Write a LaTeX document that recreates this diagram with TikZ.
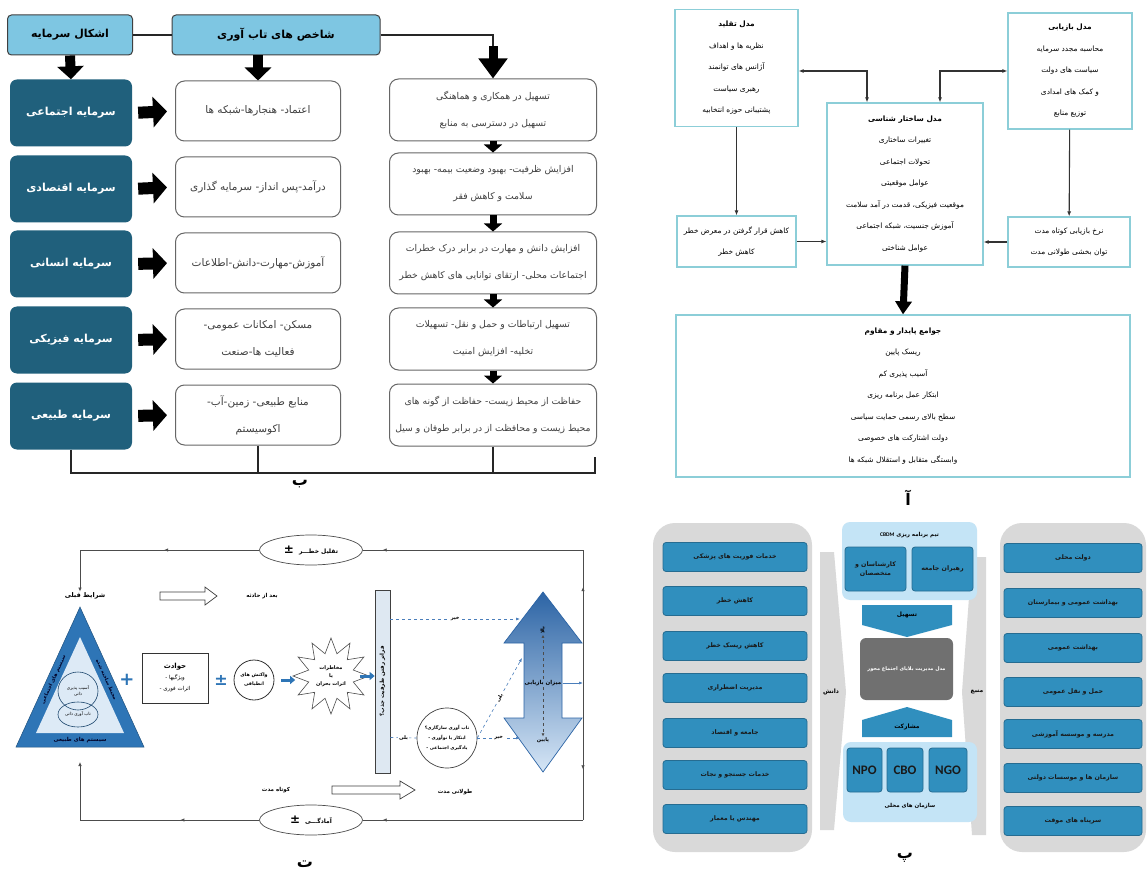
\documentclass[tikz,border=0pt]{standalone}
\usepackage{fontspec}
\newfontfamily\fa[Script=Arabic]{DejaVu Sans}
\newfontfamily\lat{Carlito}
\TeXXeTstate=1
\usepackage{xcolor}
\definecolor{hdrblue}{RGB}{126, 198, 226}
\definecolor{tealbox}{RGB}{32, 96, 124}
\definecolor{cyanline}{RGB}{140, 206, 216}
\definecolor{cellblue}{RGB}{48, 143, 190}
\definecolor{cellline}{RGB}{38, 108, 145}
\definecolor{panelgray}{RGB}{217, 217, 217}
\definecolor{panelblue}{RGB}{196, 228, 246}
\definecolor{coregray}{RGB}{112, 112, 112}
\definecolor{triblue}{RGB}{46, 117, 182}
\definecolor{trilight}{RGB}{221, 234, 246}
\definecolor{dashblue}{RGB}{74, 126, 187}
\definecolor{bardark}{RGB}{44, 100, 165}
\definecolor{barmid}{RGB}{150, 186, 222}
\definecolor{barlight}{RGB}{214, 230, 246}
\definecolor{barfill}{RGB}{222, 232, 242}
\usepackage{tikz}
\usetikzlibrary{
    shapes.geometric,
    arrows.meta,
    positioning,
    decorations.markings
}
\newcommand{\rl}[1]{\beginR#1\endR}
\newcommand{\rlb}[1]{\beginR{\bfseries#1}\endR}
\newcommand{\fsz}[2]{\fontsize{#1}{#2}\selectfont}

\begin{document}
\begin{tikzpicture}[
  x=1pt, y=-1pt,
  every node/.style={font=\fa, inner sep=1pt, align=center},
  % panel b
  hdr/.style={draw=black!75, line width=1pt, rounded corners=4pt, fill=hdrblue,
    minimum height=40, font=\fa\bfseries\fsz{11}{13}},
  capbox/.style={fill=tealbox, rounded corners=7pt, minimum width=122,
    minimum height=67, text=white, font=\fa\bfseries\fsz{11}{13}},
  idxbox/.style={draw=black!60, line width=1pt, rounded corners=9pt, fill=white,
    text=black!75, font=\fa\fsz{10.5}{27}},
  actbox/.style={idxbox, font=\fa\fsz{9.3}{27}},
  fatdown/.style={line width=10pt, -{Triangle[width=26pt, length=13pt]}},
  fatright/.style={line width=12pt, -{Triangle[width=30pt, length=14pt]}},
  smalldown/.style={line width=7pt, -{Triangle[width=18pt, length=8pt]}},
  busline/.style={line width=1.6pt, black!85},
  % panel a
  modbox/.style={draw=cyanline, line width=1.2pt, fill=white,
    font=\fa\fsz{7.4}{21.5}},
  modarrow/.style={line width=1.1pt, black!80, -{Latex[length=5pt, width=4pt]}},
  modboth/.style={modarrow, {Latex[length=5pt, width=4pt]}-{Latex[length=5pt, width=4pt]}},
  % panel p
  graypanel/.style={fill=panelgray, rounded corners=22pt},
  teampanel/.style={fill=panelblue, rounded corners=8pt},
  cell/.style={fill=cellblue, draw=cellline, line width=0.8pt, rounded corners=3pt,
    text=black!90, font=\fa\bfseries\fsz{6.3}{9}},
  % panel t
  loopline/.style={line width=0.7pt, black!70},
  midarr/.style={postaction={decorate}, decoration={markings,
    mark=at position #1 with {\arrow{Latex[length=4pt, width=3.5pt]}}}},
  endarr/.style={-{Latex[length=4pt, width=3.5pt]}},
  dashline/.style={draw=dashblue, dashed, line width=0.6pt},
  dasharr/.style={dashline, -{Latex[length=4pt, width=3pt]}},
  bluefat/.style={line width=3pt, draw=triblue, -{Triangle[width=8pt, length=5pt]}},
  tiny/.style={font=\fa\bfseries\fsz{5}{7}},
  lbl/.style={fill=white, inner sep=1.5pt, font=\fa\bfseries\fsz{5}{6}},
  panellbl/.style={font=\fa\bfseries\fsz{16}{18}}
]
\useasboundingbox[fill=white] (0,0) rectangle (1148,874);

% ---------------- panel b ----------------
\node[hdr, minimum width=125] (hcap) at (70,35) {\rl{اشکال سرمایه}};
\node[hdr, minimum width=208] (hidx) at (276,35) {\rl{شاخص های تاب آوری}};

\foreach \y/\txt [count=\i] in {113/سرمایه اجتماعی, 189/سرمایه اقتصادی,
    264/سرمایه انسانی, 340/سرمایه فیزیکی, 416/سرمایه طبیعی}
  \node[capbox] (c\i) at (71,\y) {\rl{\txt}};

\foreach \y/\txt [count=\i] in {
    111/{\rl{اعتماد- هنجارها-شبکه ها}},
    187/{\rl{درآمد-پس انداز- سرمایه گذاری}},
    263/{\rl{آموزش-مهارت-دانش-اطلاعات}},
    339/{\rl{مسکن- امکانات عمومی-}\\\rl{فعالیت ها-صنعت}},
    415/{\rl{منابع طبیعی- زمین-آب-}\\\rl{اکوسیستم}}}
  \node[idxbox, minimum width=165, minimum height=60] (m\i) at (258,\y) {\txt};

\foreach \y/\txt [count=\i] in {
    110/{\rl{تسهیل در همکاری و هماهنگی}\\\rl{تسهیل در دسترسی به منابع}},
    184/{\rl{افزایش ظرفیت- بهبود وضعیت بیمه- بهبود}\\\rl{سلامت و کاهش فقر}},
    263/{\rl{افزایش دانش و مهارت در برابر درک خطرات}\\\rl{اجتماعات محلی- ارتقای توانایی های کاهش خطر}},
    339/{\rl{تسهیل ارتباطات و حمل و نقل- تسهیلات}\\\rl{تخلیه- افزایش امنیت}},
    415/{\rl{حفاظت از محیط زیست- حفاظت از گونه های}\\\rl{محیط زیست و محافظت از در برابر طوفان و سیل}}}
  \node[actbox, minimum width=207, minimum height=62] (r\i) at (493,\y) {\txt};

\draw[busline, line width=2.4pt] (hcap.east) -- (hidx.west);
\draw[busline, line width=2.4pt] (hidx.east) -| ([yshift=20pt]r1.north);
\draw[fatdown] (hcap.south) -- (c1.north);
\draw[fatdown] (m1.north |- hidx.south) -- (m1.north);
\draw[line width=9pt, -{Triangle[width=28pt, length=20pt]}] ([yshift=32pt]r1.north) -- (r1.north);
\foreach \i in {1,...,5}
  \draw[fatright, shorten <=6pt, shorten >=8pt] (c\i.east) -- (m\i.west);
\foreach \i [evaluate=\i as \j using int(\i+1)] in {1,...,4}
  \draw[smalldown] (r\i.south) -- (r\j.north);

\coordinate (bend) at (595,473);
\draw[busline] (c5.south) |- (bend) -- ++(0,-16);
\draw[busline] (m5.south) -- (m5.south |- bend);
\draw[busline] (r5.south) -- (r5.south |- bend);
\node[panellbl] (lb) at (300,484) {\rl{ب}};

% ---------------- panel a ----------------
\node[modbox, minimum width=123, minimum height=117] (taq) at (736.5,68)
  {\rlb{مدل تقلید}\\\rl{نظریه ها و اهداف}\\\rl{آژانس های توانمند}\\\rl{رهبری سیاست}\\\rl{پشتیبانی حوزه انتخابیه}};
\node[modbox, minimum width=124, minimum height=116] (baz) at (1070,71)
  {\rlb{مدل بازیابی}\\\rl{محاسبه مجدد سرمایه}\\\rl{سیاست های دولت}\\\rl{و کمک های امدادی}\\\rl{توزیع منابع}};
\node[modbox, minimum width=156, minimum height=162] (sak) at (905,184)
  {\rlb{مدل ساختار شناسی}\\\rl{تغییرات ساختاری}\\\rl{تحولات اجتماعی}\\\rl{عوامل موقعیتی}\\
   \rl{موقعیت فیزیکی، قدمت در آمد سلامت}\\\rl{آموزش جنسیت، شبکه اجتماعی}\\\rl{عوامل شناختی}};
\node[modbox, minimum width=119, minimum height=51] (kah) at (736.5,241.5)
  {\rl{کاهش قرار گرفتن در معرض خطر}\\\rl{کاهش خطر}};
\node[modbox, minimum width=122, minimum height=50] (nrk) at (1069,242)
  {\rl{نرخ بازیابی کوتاه مدت}\\\rl{توان بخشی طولانی مدت}};
\node[modbox, minimum width=454, minimum height=162] (jvm) at (903,396)
  {\rlb{جوامع پایدار و مقاوم}\\\rl{ریسک پایین}\\\rl{آسیب پذیری کم}\\\rl{ابتکار عمل برنامه ریزی}\\
   \rl{سطح بالای رسمی حمایت سیاسی}\\\rl{دولت اشتارکت های خصوصی}\\\rl{وابستگی متقابل و استقلال شبکه ها}};

\draw[modboth] ([yshift=-3pt]taq.east) -| ([xshift=-38pt]sak.north);
\draw[modboth] (baz.west) -| ([xshift=35pt]sak.north);
\draw[modarrow] (taq) -- (kah);
\draw[modarrow] (baz) -- (nrk);
\draw[modarrow] (kah.east) -- (kah.east -| sak.west);
\draw[modarrow] (nrk.west) -- (nrk.west -| sak.east);
\draw[line width=7pt, -{Triangle[width=16pt, length=13pt]}] (sak.south) -- (jvm.north);
\node[panellbl] (la) at (908,498) {\rl{آ}};

% ---------------- panel p ----------------
\node[graypanel, minimum width=159, minimum height=329] (gk) at (732.5,687.5) {};
\node[graypanel, minimum width=146, minimum height=329] (gm) at (1073,687.5) {};
\foreach \y/\txt [count=\i] in {557/خدمات فوریت های پزشکی, 601/کاهش خطر,
    646/کاهش ریسک خطر, 688/مدیریت اضطراری, 733/جامعه و اقتصاد,
    775/خدمات جستجو و نجات, 819/مهندس یا معمار}
  \node[cell, minimum width=144, minimum height=29] (k\i) at (735,\y) {\rl{\txt}};
\foreach \y/\txt [count=\i] in {558/دولت محلی, 603/بهداشت عمومی و بیمارستان,
    648/بهداشت عمومی, 692/حمل و نقل عمومی, 734/مدرسه و موسسه آموزشی,
    778/سازمان ها و موسسات دولتی, 821/سرپناه های موقت}
  \node[cell, minimum width=138, minimum height=29] (s\i) at (1073,\y) {\rl{\txt}};

\fill[panelgray] (820,552) -- (834,552) -- (846,692) -- (834,830) -- (820,830) -- cycle;
\node[tiny, font=\fa\bfseries\fsz{6}{7}] (dn) at (831,692) {\rl{دانش}};
\fill[panelgray] (972,557) -- (986,557) -- (986,835) -- (972,835) -- (962,692) -- cycle;
\node[tiny, font=\fa\bfseries\fsz{6}{7}] (mb) at (977,692) {\rl{منبع}};

\node[teampanel, minimum width=135, minimum height=78] (tp) at (909.5,561) {};
\node[tiny, font=\fa\bfseries\fsz{5.5}{7}] (tpt) at (909.5,535)
  {\rl{تیم برنامه ریزی \beginL{\lat\bfseries CBDM}\endL}};
\node[cell, minimum width=61, minimum height=44] (ksn) at (875.5,569) {\rl{کارشناسان و}\\\rl{متخصصان}};
\node[cell, minimum width=61, minimum height=44] (rhb) at (942.5,569) {\rl{رهبران جامعه}};
\fill[cellblue] (862,605) -- (952,605) -- (952,625) -- (907,637) -- (862,625) -- cycle;
\node[tiny, font=\fa\bfseries\fsz{6}{7}] (tsh) at (907,615) {\rl{تسهیل}};
\node[fill=coregray, rounded corners=6pt, minimum width=93, minimum height=62,
  text=white, font=\fa\bfseries\fsz{5}{7}] (mdl) at (906.5,669) {\rl{مدل مدیریت بلایای اجتماع محور}};
\fill[cellblue] (907,707) -- (952,720) -- (952,737) -- (862,737) -- (862,720) -- cycle;
\node[tiny, font=\fa\bfseries\fsz{6}{7}] (msh) at (907,727) {\rl{مشارکت}};
\node[teampanel, minimum width=134, minimum height=80] (bp) at (910,782) {};
\node[cell, font=\lat\bfseries\fsz{13}{14}, minimum width=35, minimum height=44] (npo) at (864.5,770) {NPO};
\node[cell, font=\lat\bfseries\fsz{13}{14}, minimum width=36, minimum height=44] (cbo) at (905,770) {CBO};
\node[cell, font=\lat\bfseries\fsz{13}{14}, minimum width=38, minimum height=44] (ngo) at (948,770) {NGO};
\node[tiny, font=\fa\bfseries\fsz{5.5}{7}] (smh) at (910,806) {\rl{سازمان های محلی}};
\node[panellbl] (lp) at (905,858) {\rl{پ}};

% ---------------- panel t ----------------
\coordinate (ltop) at (80,550);
\coordinate (rtop) at (583,550);
\coordinate (lbot) at (80,820);
\coordinate (rbot) at (583,820);
\coordinate (rmid) at (583,683);
\coordinate (tribase) at (80,762);
\coordinate (uhead) at (520,619);
\coordinate (lhead) at (520,738);
\coordinate (uside) at (522,658);

\node[ellipse, draw=black!70, line width=0.7pt, minimum width=103, minimum height=30,
  font=\fa\bfseries\fsz{6}{7}] (tql) at (311,550) {{\fsz{12}{12}±}\hspace{5pt}\rl{تقلیل خطـــر}};
\node[ellipse, draw=black!70, line width=0.7pt, minimum width=103, minimum height=30,
  font=\fa\bfseries\fsz{6}{7}] (amd) at (311,820) {{\fsz{12}{12}±}\hspace{5pt}\rl{آمادگـــی}};
\node[font=\fa\bfseries\fsz{6.5}{8}] (sq) at (85,596) {\rl{شرایط قبلی}};

\draw[loopline, midarr=0.72] (rmid) -- (rtop);
\draw[loopline, midarr=0.63] (rmid) -- (rbot);
\draw[loopline, midarr=0.91] (rtop) -- (tql.east);
\draw[loopline, midarr=0.53] (tql.west) -- (ltop);
\draw[loopline, endarr] (ltop) -- (ltop |- sq.north);
\draw[loopline, midarr=0.91] (rbot) -- (amd.east);
\draw[loopline, midarr=0.44] (amd.west) -- (lbot);
\draw[loopline, endarr] (lbot) -- (tribase);

% triangle
\filldraw[fill=triblue, draw=triblue!70!black, line width=0.5pt] (80,607) -- (144,747) -- (16,747) -- cycle;
\fill[trilight] (80,637) -- (124,733) -- (36,733) -- cycle;
\node[tiny, text=black!85!blue, rotate=65.5] (ssj) at (53.6,679.6) {\rl{سیستم های اجتماعی}};
\node[tiny, text=black!85!blue, rotate=-65.5] (mss) at (106.4,679.6) {\rl{محیط ساخته شده}};
\node[tiny, text=black!85!blue, font=\fa\bfseries\fsz{5.5}{7}] (sst) at (80,740) {\rl{سیستم های طبیعی}};
\node[ellipse, draw=triblue!60!black, line width=0.6pt, minimum width=40, minimum height=38,
  font=\fa\fsz{4.3}{6}] (asb) at (78,691) {\rl{آسیب پذیری}\\\rl{ذاتی}};
\node[ellipse, draw=triblue!60!black, line width=0.6pt, minimum width=40, minimum height=25,
  font=\fa\fsz{4.3}{6}] (tab) at (78,714.5) {\rl{تاب آوری ذاتی}};

\node[font=\fa\bfseries\fsz{18}{18}, text=triblue] (pls) at (127,680) {+};
\node[draw=black!80, line width=0.8pt, minimum width=66, minimum height=50,
  font=\fa\fsz{5.5}{11}] (hvd) at (175,678) {\beginR{\bfseries\fsz{7}{11}حوادث}\endR\\\rl{ویژگیها -}\\\rl{اثرات فوری -}};
\node[font=\fa\bfseries\fsz{16}{16}, text=triblue] (pm) at (221,680) {±};
\node[circle, draw=black!80, line width=0.8pt, minimum size=40, inner sep=0,
  font=\fa\bfseries\fsz{4.8}{9}] (wk) at (254,680) {\rl{واکنش های}\\\rl{انطباقی}};
\node[star, star points=12, star point ratio=1.65, draw=black!70, line width=0.6pt,
  minimum size=76, inner sep=0, font=\fa\bfseries\fsz{5}{8}] (st) at (331,676)
  {\rl{مخاطرات}\\\rl{یا}\\\rl{اثرات بحران}};
\node[draw=black!75, line width=0.7pt, fill=barfill, minimum width=15, minimum height=183,
  inner sep=0] (fb) at (382.5,681.5) {};
\node[rotate=90, font=\fa\bfseries\fsz{5.5}{7}] (fbt) at (fb.center)
  {\beginR فراتر رفتن ظرفیت جذب؟\endR};
\draw[bluefat, shorten <=7pt, shorten >=-3pt] (wk.east) -- (wk.east -| st.west);
\draw[bluefat] ([xshift=-10pt]st.east) -- (st.east -| fb.west);

\node[circle, draw=black!75, line width=0.7pt, minimum size=60, inner sep=0,
  font=\fa\bfseries\fsz{4.5}{10}] (tav) at (447,738)
  {\rl{تاب آوری سازگاری؟}\\\rl{ابتکار یا نوآوری -}\\\rl{یادگیری اجتماعی -}};

% recovery arrow
\shadedraw[top color=bardark, middle color=barmid, bottom color=barlight,
  draw=bardark, line width=0.7pt]
  (543,592) -- (582,643) -- (562,643) -- (562,718) -- (582,718) -- (543,772)
  -- (504,718) -- (524,718) -- (524,643) -- (504,643) -- cycle;
\node[tiny, rotate=90] (bla) at (543,630) {\rl{بالا}};
\node[tiny, font=\fa\bfseries\fsz{5.5}{7}] (mzn) at (543,683) {\rl{میزان بازیابی}};
\node[tiny] (pyn) at (543,740) {\rl{پایین}};
\draw[dashed, black!70, line width=0.5pt, -{Latex[length=3pt, width=3pt]}] (mzn) -- (bla);
\draw[dashed, black!70, line width=0.5pt, -{Latex[length=3pt, width=3pt]}] (mzn) -- (pyn);
\draw[draw=dashblue, line width=0.7pt, -{Latex[length=4pt, width=3pt]}] (mzn.east) -- (rmid);

\draw[dasharr] ([yshift=62.5pt]fb.east) -- node[lbl]{\rl{خیر}} (uhead);
\draw[dashline] ([yshift=-56pt]fb.east) -- node[lbl]{\rl{بلی}} (tav.west);
\draw[dasharr] (tav.east) -- node[lbl]{\rl{خیر}} (lhead);
\draw[dasharr] (tav.east) -- node[lbl, sloped]{\rl{بلی}} (uside);

% time arrows
\draw[black!75, line width=0.7pt] (160,592) -- (205,592) -- (205,587) -- (217,596)
  -- (205,605) -- (205,600) -- (160,600) -- cycle;
\draw[black!75, line width=0.7pt] (332,786) -- (400,786) -- (400,781) -- (415,790)
  -- (400,799) -- (400,794) -- (332,794) -- cycle;
\node[tiny, font=\fa\bfseries\fsz{5.5}{7}] (bah) at (262,596) {\rl{بعد از حادثه}};
\node[tiny, font=\fa\bfseries\fsz{5.5}{7}] (kvm) at (276,790) {\rl{کوتاه مدت}};
\node[tiny, font=\fa\bfseries\fsz{5.5}{7}] (tvm) at (455,792) {\rl{طولانی مدت}};
\node[panellbl] (lt) at (305,864) {\rl{ت}};
\end{tikzpicture}
\end{document}
